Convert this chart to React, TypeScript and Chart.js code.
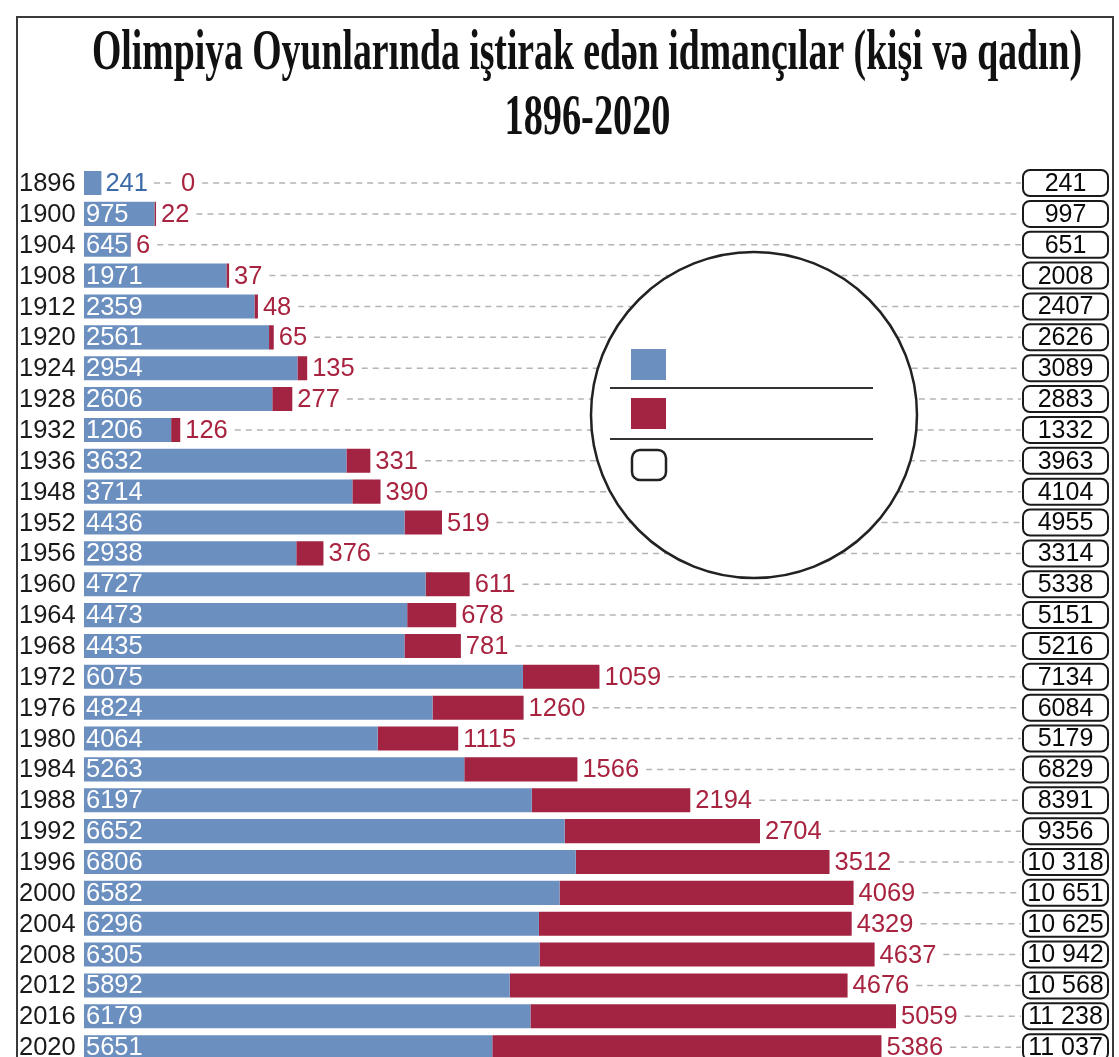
import React, { useEffect, useRef } from "react";
import { Chart, registerables } from "chart.js";

Chart.register(...registerables);

const years = ["1896","1900","1904","1908","1912","1920","1924","1928","1932","1936","1948","1952","1956","1960","1964","1968","1972","1976","1980","1984","1988","1992","1996","2000","2004","2008","2012","2016","2020"];
const male = [241,975,645,1971,2359,2561,2954,2606,1206,3632,3714,4436,2938,4727,4473,4435,6075,4824,4064,5263,6197,6652,6806,6582,6296,6305,5892,6179,5651];
const female = [0,22,6,37,48,65,135,277,126,331,390,519,376,611,678,781,1059,1260,1115,1566,2194,2704,3512,4069,4329,4637,4676,5059,5386];
const totals = [241,997,651,2008,2407,2626,3089,2883,1332,3963,4104,4955,3314,5338,5151,5216,7134,6084,5179,6829,8391,9356,10318,10651,10625,10942,10568,11238,11037];
const titleLines = ["Olimpiya Oyunlarında iştirak edən idmançılar (kişi və qadın)", "1896-2020"];

const BLUE = "#6b8fbf";
const RED = "#a32342";
const RED_TEXT = "#a8233f";
const BLUE_TEXT = "#3c6aa8";
const SANS = '"Liberation Sans", Arial, sans-serif';

function fmt(v: number): string {
  if (v >= 10000) {
    const s = String(v);
    return s.slice(0, s.length - 3) + " " + s.slice(s.length - 3);
  }
  return String(v);
}

const overlay = {
  id: "overlay",
  afterDraw(chart: any) {
    const ctx: CanvasRenderingContext2D = chart.ctx;
    const m0 = chart.getDatasetMeta(0);
    const m1 = chart.getDatasetMeta(1);
    const boxL = 1023, boxR = 1108;
    ctx.save();
    ctx.textBaseline = "middle";
    for (let i = 0; i < years.length; i++) {
      const b = m0.data[i];
      const r = m1.data[i];
      const y = b.y;
      const x0 = b.base;
      const blueEnd = b.x;
      const redEnd = r.x;
      // year
      ctx.font = "25.5px " + SANS;
      ctx.fillStyle = "#1a1a1a";
      ctx.textAlign = "left";
      ctx.fillText(years[i], 19, y + 1);
      ctx.font = "25.5px " + SANS;
      // blue label
      const ml = String(male[i]);
      const wm = ctx.measureText(ml).width;
      let cursor: number;
      let redX: number;
      ctx.setLineDash([6, 5]);
      ctx.lineWidth = 1.5;
      ctx.strokeStyle = "#b4b4b4";
      if (wm - 2 <= blueEnd - x0) {
        ctx.fillStyle = "#ffffff";
        ctx.fillText(ml, x0 + 2, y + 1);
        redX = Math.max(redEnd + 5, x0 + 2 + wm + 1);
      } else {
        ctx.fillStyle = BLUE_TEXT;
        ctx.fillText(ml, blueEnd + 4, y + 1);
        cursor = blueEnd + 4 + wm;
        redX = cursor + 33;
        ctx.beginPath();
        ctx.moveTo(cursor + 6, y);
        ctx.lineTo(redX - 6, y);
        ctx.stroke();
      }
      const fl = String(female[i]);
      const wf = ctx.measureText(fl).width;
      ctx.fillStyle = RED_TEXT;
      ctx.fillText(fl, redX, y + 1);
      ctx.beginPath();
      ctx.moveTo(redX + wf + 7, y);
      ctx.lineTo(boxL - 2, y);
      ctx.stroke();
      ctx.setLineDash([]);
      // total box
      ctx.beginPath();
      ctx.roundRect(boxL, y - 13, boxR - boxL, 26, 7);
      ctx.fillStyle = "#ffffff";
      ctx.fill();
      ctx.lineWidth = 2;
      ctx.strokeStyle = "#1a1a1a";
      ctx.stroke();
      ctx.font = "25px " + SANS;
      ctx.fillStyle = "#0a0a0a";
      ctx.textAlign = "center";
      ctx.fillText(fmt(totals[i]), (boxL + boxR) / 2, y + 1);
    }
    // legend circle
    ctx.beginPath();
    ctx.arc(754, 415, 163, 0, Math.PI * 2);
    ctx.fillStyle = "#ffffff";
    ctx.fill();
    ctx.lineWidth = 2.5;
    ctx.strokeStyle = "#222222";
    ctx.stroke();
    ctx.lineWidth = 2;
    ctx.strokeStyle = "#333333";
    ctx.beginPath();
    ctx.moveTo(610, 388);
    ctx.lineTo(873, 388);
    ctx.moveTo(610, 439);
    ctx.lineTo(873, 439);
    ctx.stroke();
    ctx.fillStyle = BLUE;
    ctx.fillRect(631, 349, 35, 31);
    ctx.fillStyle = RED;
    ctx.fillRect(631, 398, 35, 31);
    ctx.beginPath();
    ctx.roundRect(632, 450, 34, 30, 8);
    ctx.lineWidth = 2.5;
    ctx.strokeStyle = "#222222";
    ctx.stroke();

    // frame
    ctx.strokeStyle = "#3a3a3a";
    ctx.lineWidth = 2;
    ctx.beginPath();
    ctx.moveTo(17, 1080);
    ctx.lineTo(17, 17);
    ctx.lineTo(1113, 17);
    ctx.lineTo(1113, 1080);
    ctx.stroke();

    // title
    ctx.fillStyle = "#111111";
    ctx.textAlign = "left";
    ctx.textBaseline = "alphabetic";
    ctx.font = 'bold 56px "Liberation Serif", "Times New Roman", serif';
    const targets = [[587, 69, 990], [587.5, 134, 166]];
    for (let k = 0; k < titleLines.length; k++) {
      const [cx, by, tw] = targets[k];
      const w = ctx.measureText(titleLines[k]).width;
      const sx = tw / w;
      ctx.save();
      ctx.translate(cx - tw / 2, by);
      ctx.scale(sx, 1);
      ctx.fillText(titleLines[k], 0, 0);
      ctx.restore();
    }
    ctx.restore();
  },
};

export default function App() {
  const ref = useRef<HTMLCanvasElement>(null);
  useEffect(() => {
    if (!ref.current) return;
    const chart = new Chart(ref.current, {
      type: "bar",
      data: {
        labels: years,
        datasets: [
          { label: "", data: male, backgroundColor: BLUE, barPercentage: 0.78, categoryPercentage: 1 },
          { label: "", data: female, backgroundColor: RED, barPercentage: 0.78, categoryPercentage: 1 },
        ],
      },
      options: {
        indexAxis: "y",
        responsive: false,
        maintainAspectRatio: false,
        animation: false,
        layout: { padding: { left: 84, right: 9, top: 167.6, bottom: 12.4 } },
        plugins: { legend: { display: false }, tooltip: { enabled: false }, title: { display: false } },
        scales: {
          x: { type: "linear", stacked: true, display: false, min: 0, max: 14200 },
          y: { type: "category", stacked: true, display: false },
        },
      },
      plugins: [overlay],
    });
    return () => chart.destroy();
  }, []);
  return (
    <div style={{ position: "fixed", left: 0, top: 0, width: 1119, height: 1057, overflow: "hidden", background: "#ffffff" }}>
      <canvas ref={ref} width={1119} height={1075} style={{ display: "block" }} />
    </div>
  );
}
